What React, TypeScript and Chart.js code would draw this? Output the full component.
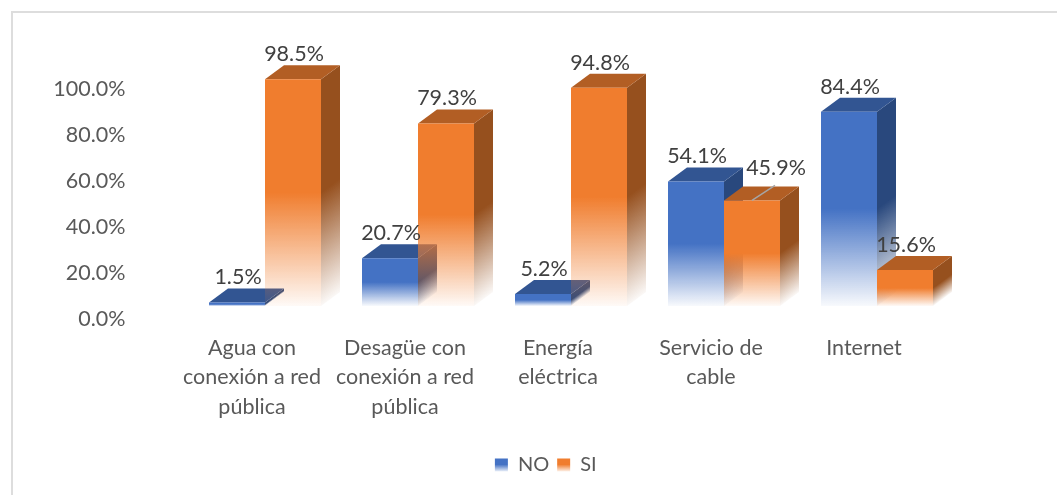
import React, { useEffect, useRef } from "react";
import { Chart, registerables } from "chart.js";

Chart.register(...registerables);

const categories: string[][] = [
  ["Agua con", "conexión a red", "pública"],
  ["Desagüe con", "conexión a red", "pública"],
  ["Energía", "eléctrica"],
  ["Servicio de", "cable"],
  ["Internet"],
];
const noValues = [1.5, 20.7, 5.2, 54.1, 84.4];
const siValues = [98.5, 79.3, 94.8, 45.9, 15.6];
const yTickValues = [0, 20, 40, 60, 80, 100];

const FONT = "Lato, 'Open Sans', sans-serif";
const DEPTH_X = 19;
const DEPTH_Y = 14;

type Rgb = [number, number, number];
const palette: Record<string, { front: Rgb; top: Rgb; side: Rgb }> = {
  NO: { front: [68, 114, 196], top: [50, 85, 146], side: [41, 72, 125] },
  SI: { front: [240, 125, 46], top: [178, 94, 36], side: [150, 80, 30] },
};

const rgba = (c: Rgb, a: number) => `rgba(${c[0]},${c[1]},${c[2]},${a})`;

function fade(ctx: CanvasRenderingContext2D, c: Rgb, y0: number, y1: number) {
  const g = ctx.createLinearGradient(0, y0, 0, y1);
  g.addColorStop(0, rgba(c, 1));
  g.addColorStop(0.5, rgba(c, 1));
  g.addColorStop(1, rgba(c, 0.04));
  return g;
}

const frontFill = (name: string) => (context: any) => {
  const { chart, parsed, raw } = context;
  const y = chart.scales?.y;
  const c = palette[name].front;
  if (!y || !chart.chartArea) return rgba(c, 1);
  const value = typeof raw === "number" ? raw : parsed?.y ?? 0;
  return fade(chart.ctx, c, y.getPixelForValue(value), y.getPixelForValue(0));
};

// The first dataset goes furthest back, the later ones are drawn over it.
const cube3d = {
  id: "cube3d",
  afterLayout(chart: any) {
    // legend sits off-centre in the reference
    chart.legend.left += 69;
    chart.legend.right += 69;
  },
  beforeDatasetDraw() {
    return false;
  },
  beforeDatasetsDraw(chart: any) {
    const ctx: CanvasRenderingContext2D = chart.ctx;
    chart.data.datasets.forEach((ds: any, index: number) => {
      const meta = chart.getDatasetMeta(index);
      const colors = palette[ds.label];
      meta.data.forEach((el: any) => {
        const right = el.x + el.width / 2;
        const left = el.x - el.width / 2;
        const top = el.y;
        const base = el.base;
        // side face, sheared so the fade follows its slanted bottom edge
        ctx.save();
        ctx.transform(1, -DEPTH_Y / DEPTH_X, 0, 1, right, 0);
        ctx.fillStyle = fade(ctx, colors.side, top, base);
        ctx.fillRect(0, top, DEPTH_X, base - top);
        ctx.restore();
        // top face
        ctx.beginPath();
        ctx.moveTo(left, top);
        ctx.lineTo(left + DEPTH_X, top - DEPTH_Y);
        ctx.lineTo(right + DEPTH_X, top - DEPTH_Y);
        ctx.lineTo(right, top);
        ctx.closePath();
        ctx.fillStyle = rgba(colors.top, 1);
        ctx.fill();
      });
      meta.controller.draw();
    });
  },
};

const valueLabels = {
  id: "valueLabels",
  afterDatasetsDraw(chart: any) {
    const ctx: CanvasRenderingContext2D = chart.ctx;
    ctx.save();
    ctx.font = `21.5px ${FONT}`;
    ctx.fillStyle = "#404040";
    ctx.textAlign = "center";
    ctx.textBaseline = "middle";
    chart.data.datasets.forEach((ds: any, di: number) => {
      const meta = chart.getDatasetMeta(di);
      meta.data.forEach((el: any, i: number) => {
        const moved = ds.label === "SI" && i === 3;
        if (moved) {
          ctx.save();
          ctx.strokeStyle = "#A6A6A6";
          ctx.lineWidth = 1.5;
          ctx.beginPath();
          ctx.moveTo(el.x, el.y);
          ctx.lineTo(el.x + 23, el.y - 15);
          ctx.stroke();
          ctx.restore();
        }
        const text = `${ds.data[i].toFixed(1)}%`;
        ctx.fillText(text, el.x + (moved ? 24 : 1), el.y - (moved ? 32 : 25));
      });
    });
    ctx.restore();
  },
};

export default function App() {
  const ref = useRef<HTMLCanvasElement>(null);
  useEffect(() => {
    const canvas = ref.current!;
    const chart = new Chart(canvas, {
      type: "bar",
      data: {
        labels: categories,
        datasets: [
          { label: "NO", data: noValues, backgroundColor: frontFill("NO") },
          { label: "SI", data: siValues, backgroundColor: frontFill("SI") },
        ],
      },
      plugins: [cube3d, valueLabels],
      options: {
        animation: false,
        responsive: false,
        layout: { padding: { left: 0, right: 103.5, top: 74, bottom: 10 } },
        datasets: { bar: { categoryPercentage: 112 / 153, barPercentage: 1 } },
        scales: {
          x: {
            grid: { display: false, drawTicks: false },
            border: { display: false },
            afterFit: (s: any) => { s.height = 141; },
            ticks: {
              color: "#595959",
              font: { family: FONT, size: 21.5, lineHeight: 1.35 },
              padding: 28,
              labelOffset: -13,
              maxRotation: 0,
              autoSkip: false,
            },
          },
          y: {
            min: 0,
            max: 100,
            grid: { display: false, drawTicks: false },
            border: { display: false },
            afterFit: (s: any) => { s.width = 188.5; },
            afterBuildTicks: (s: any) => { s.ticks = yTickValues.map((value) => ({ value })); },
            ticks: {
              color: "#595959",
              font: { family: FONT, size: 21.5 },
              padding: 63,
              labelOffset: 13,
              callback: (v: any) => `${Number(v).toFixed(1)}%`,
            },
          },
        },
        plugins: {
          tooltip: { enabled: false },
          legend: {
            position: "bottom",
            labels: {
              boxWidth: 13,
              boxHeight: 13,
              padding: 8,
              color: "#595959",
              font: { family: FONT, size: 20 },
              generateLabels: (c: any) =>
                c.data.datasets.map((d: any, i: number) => ({
                  text: d.label,
                  datasetIndex: i,
                  lineWidth: 0,
                  strokeStyle: "transparent",
                  fontColor: "#595959",
                  fillStyle: fade(c.ctx, palette[d.label].front, 457, 472),
                })),
            },
          },
        },
      },
    } as any);
    return () => chart.destroy();
  }, []);
  return (
    <div style={{ position: "fixed", left: 0, top: 0, width: 1057, height: 495, overflow: "hidden", background: "#fff" }}>
      <div
        style={{
          position: "absolute",
          left: 11,
          top: 11,
          width: 1100,
          height: 600,
          border: "2px solid #DDDDDD",
          boxSizing: "border-box",
        }}
      />
      <canvas ref={ref} width={1057} height={495} style={{ position: "absolute", left: 0, top: 0, display: "block" }} />
    </div>
  );
}
